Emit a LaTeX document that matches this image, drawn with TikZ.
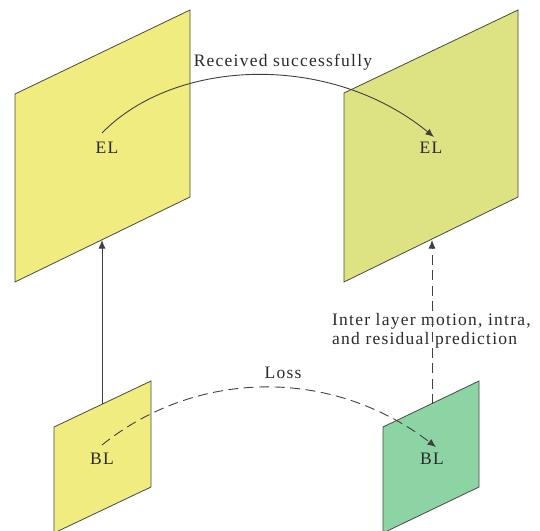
\documentclass[tikz,border=0pt]{standalone}
\usepackage{fontspec}
\setmainfont{Liberation Serif}[LetterSpace=7]
\usetikzlibrary{arrows.meta}
\definecolor{yelA}{HTML}{F0EC80}
\definecolor{yelB}{HTML}{DDE282}
\definecolor{grnB}{HTML}{8DD4A4}
\definecolor{edgeC}{HTML}{4A4A40}
\definecolor{lineC}{HTML}{404040}
\definecolor{txtC}{HTML}{2A2A2A}
\begin{document}
\begin{tikzpicture}[x=1pt,y=-1pt,
  plane/.style={draw=edgeC,line width=0.8pt,line join=miter},
  lbl/.style={text=txtC,font=\fontsize{17.5}{19.5}\selectfont,inner sep=0pt},
  conn/.style={draw=lineC,line width=0.9pt,-{Latex[length=8.5pt,width=7pt]}},
  dconn/.style={conn,dash pattern=on 10pt off 5.5pt}]
\useasboundingbox (0,0) rectangle (540,530);
% planes
\fill[white] (0,0) rectangle (540,530);
\path[plane,fill=yelA] (15,94) -- (190,10) -- (190,197) -- (15,282) -- cycle;
\path[plane,fill=yelB] (344,93) -- (518,10) -- (518,197) -- (344,282) -- cycle;
\path[plane,fill=yelA] (54,427) -- (151,381) -- (151,487) -- (54,533) -- cycle;
\path[plane,fill=grnB] (383,427) -- (479,381) -- (479,487) -- (383,533) -- cycle;
% labels
\node[lbl] (EL1) at (107,148) {EL};
\node[lbl] (EL2) at (431,148) {EL};
\node[lbl] (BL1) at (102,459) {BL};
\node[lbl] (BL2) at (432,459) {BL};
\node[lbl] (rec) at (283,62) {Received successfully};
\node[lbl] (loss) at (283,373) {Loss};
\node[lbl,align=left,anchor=west] (inter) at (332,331) {Inter layer motion, intra,\\and residual prediction};
% connector endpoints
\coordinate (s1) at (102,133);
\coordinate (t1) at (434,137);
\coordinate (s2) at (102,445);
\coordinate (t2) at (436,447);
\coordinate (v1a) at (102,404);
\coordinate (v1b) at (102,240);
\coordinate (v2a) at (432,404);
\coordinate (v2b) at (432,240);
% connectors
\draw[conn] (s1) .. controls (175,58) and (330,52) .. (t1);
\draw[dconn] (s2) .. controls (195,370) and (330,366) .. (t2);
\draw[conn] (v1a) -- (v1b);
\draw[dconn] (v2a) -- (v2b);
\end{tikzpicture}
\end{document}
